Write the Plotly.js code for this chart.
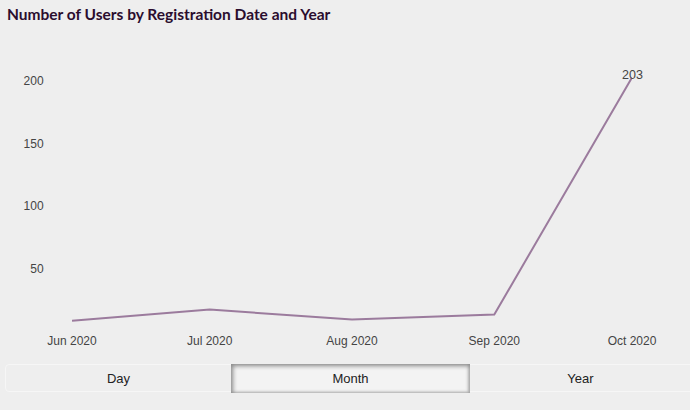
<!DOCTYPE html>
<html>
<head>
<meta charset="utf-8">
<script src="https://cdn.plot.ly/plotly-3.0.1.min.js"></script>
<style>
  html, body { margin:0; padding:0; background:#eeeeee; width:690px; height:410px; overflow:hidden; }
  #chart { position:absolute; left:0; top:0; width:690px; height:410px; }
  #btns { position:absolute; left:5px; top:364px; width:690px; height:28px; border:1px solid #f6f6f6; border-radius:4px; box-sizing:border-box; display:flex; font-family:"Liberation Sans", Arial, sans-serif; font-size:13px; color:#222; }
  .b { display:flex; align-items:center; justify-content:center; height:100%; }
  .b.active { background:#f3f3f3; box-shadow: inset 2px 2px 4px #8a8a8a, inset -2px -1px 3px #b0b0b0; height:29px; margin-top:-1px; }
</style>
</head>
<body>
<div id="chart"></div>
<div id="btns"></div>
<script>
const months = ['2020-06-01','2020-07-01','2020-08-01','2020-09-01','2020-10-01'];
const users = [8, 17, 9, 13, 203];
const labelledIndex = 4;
const yTicks = [50, 100, 150, 200];
const buttonLabels = ['Day', 'Month', 'Year'];
const activeButton = 'Month';

const tickFont = {family:'"Liberation Sans", Arial, sans-serif', size:12, color:'#444'};

const trace = {
  x: months, y: users, type:'scatter', mode:'lines',
  line:{color:'#9b7b9d', width:2}, cliponaxis:false, hoverinfo:'x+y'
};
const layout = {
  width:690, height:410,
  paper_bgcolor:'#eeeeee', plot_bgcolor:'#eeeeee',
  margin:{l:72, r:58, t:65, b:83},
  showlegend:false,
  title:{text:'Number of Users by Registration Date and Year', x:7/690, xanchor:'left', xref:'container',
         y:1-15/410, yanchor:'middle', yref:'container',
         font:{family:'Lato, sans-serif', size:15.5, weight:'bold', color:'#2b0d2e'}},
  xaxis:{type:'date', range:[months[0], months[months.length-1]], tickvals:months, tickformat:'%b %Y',
         showgrid:false, zeroline:false, showline:false,
         ticks:'', ticklabelstandoff:5,
         tickfont:tickFont},
  yaxis:{range:[3, 213], tickvals:yTicks, showgrid:false, zeroline:false, showline:false,
         ticks:'outside', ticklen:25, tickcolor:'rgba(0,0,0,0)',
         tickfont:tickFont},
  annotations:[{x:months[labelledIndex], y:users[labelledIndex], text:String(users[labelledIndex]),
                showarrow:false, xanchor:'center', yanchor:'middle', yshift:2,
                font:{family:'"Liberation Sans", Arial, sans-serif', size:12.5, color:'#444'}}]
};
Plotly.newPlot('chart', [trace], layout, {displayModeBar:false, staticPlot:true});

const widths = [225, 239, 221];
const bc = document.getElementById('btns');
buttonLabels.forEach((t, i) => {
  const d = document.createElement('div');
  d.className = 'b' + (t === activeButton ? ' active' : '');
  d.style.width = widths[i] + 'px';
  d.textContent = t;
  bc.appendChild(d);
});
</script>
</body>
</html>
